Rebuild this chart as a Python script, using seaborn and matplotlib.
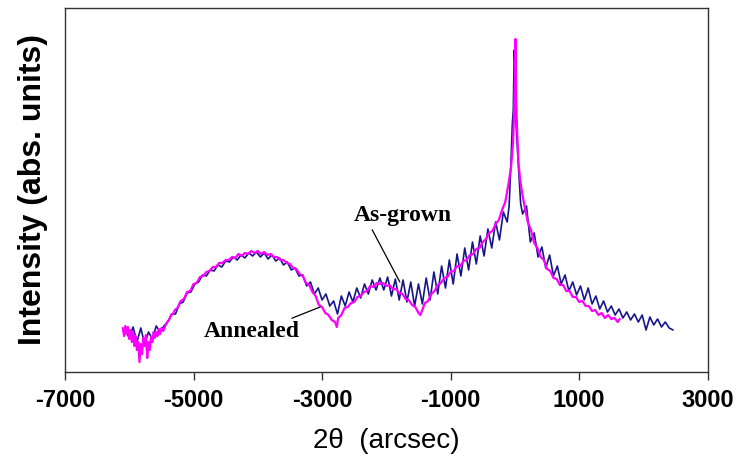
import matplotlib
matplotlib.use("Agg")
import matplotlib.pyplot as plt
import seaborn as sns
import pandas as pd

# ---------------- data ----------------
annealed_x = [-6100, -6080, -6060, -6040, -6020, -6000, -5980, -5960, -5940, -5920,
              -5900, -5880, -5860, -5840, -5820, -5800, -5780, -5760, -5740, -5720,
              -5700, -5680, -5660, -5640, -5620, -5600, -5580, -5560, -5540, -5520,
              -5500, -5470, -5440, -5410, -5380, -5350, -5320, -5290,
              -5250, -5200, -5150, -5100, -5050, -5000, -4950, -4900, -4850, -4800,
              -4750, -4700, -4650, -4600, -4550, -4500, -4450, -4400, -4350, -4300,
              -4250, -4200, -4150, -4100, -4050, -4000, -3950, -3900, -3850, -3800,
              -3750, -3700, -3650, -3600, -3550, -3500, -3450, -3400, -3350, -3300,
              -3250, -3200, -3150, -3100, -3050, -3000, -2950, -2900, -2850, -2800,
              -2770, -2750, -2700, -2650, -2600, -2550, -2500, -2450, -2400, -2350,
              -2300, -2250, -2200, -2150, -2100, -2050, -2000, -1950, -1900, -1850,
              -1800, -1750, -1700, -1650, -1600, -1550, -1500, -1470, -1440, -1400,
              -1350, -1300, -1250, -1200, -1150, -1100, -1050, -1000, -950, -900,
              -850, -800, -750, -700, -650, -600, -550, -500, -450, -400,
              -350, -300, -250, -200, -150, -100, -60, -30, -15, 0,
              10, 20, 35, 55, 80, 110, 150, 200, 250, 300,
              350, 400, 450, 500, 550, 600, 650, 700, 750, 800,
              850, 900, 950, 1000, 1050, 1100, 1150, 1200, 1250, 1300,
              1350, 1400, 1450, 1500, 1550, 1600, 1630]
annealed_y = [44, 36, 46, 38, 45, 33, 42, 30, 40, 26,
              36, 22, 30, 10, 28, 18, 34, 26, 37, 14,
              30, 22, 35, 30, 40, 34, 40, 36, 43, 38,
              44, 41, 46, 50, 52, 57, 58, 62,
              64, 71, 73, 80, 81, 88, 89, 95, 96, 100,
              101, 105, 105, 109, 109, 112, 112, 115, 114, 118,
              116, 119, 118, 121, 119, 121, 118, 120, 117, 118,
              115, 115, 112, 112, 109, 108, 104, 103, 98, 96,
              89, 87, 80, 76, 67, 65, 59, 57, 52, 50,
              45, 54, 57, 64, 65, 69, 70, 75, 76, 80,
              81, 86, 85, 89, 88, 89, 86, 87, 83, 83,
              79, 78, 73, 72, 67, 65, 59, 57, 62, 69,
              71, 78, 81, 87, 89, 94, 95, 100, 101, 106,
              106, 111, 112, 117, 118, 123, 124, 130, 133, 139,
              141, 148, 152, 162, 170, 188, 205, 228, 255, 290,
              333, 270, 240, 210, 193, 180, 166, 150, 142, 129,
              124, 115, 112, 103, 101, 94, 93, 87, 87, 81,
              81, 75, 75, 70, 71, 66, 66, 61, 62, 57,
              59, 54, 57, 53, 54, 50, 53]

asgrown_x = [-6060, -6000, -5940, -5880, -5820, -5760, -5700, -5640, -5580, -5520,
             -5460, -5400, -5340, -5280, -5220, -5160, -5100, -5040, -4980, -4920,
             -4860, -4800, -4740, -4680, -4620, -4560, -4500, -4440, -4380, -4320,
             -4260, -4200, -4140, -4080, -4020, -3960, -3900, -3840, -3780, -3720,
             -3660, -3600, -3540, -3480, -3420, -3360, -3300, -3240, -3180, -3120,
             -3060, -3000, -2940, -2880, -2820, -2760, -2700, -2640, -2580, -2520,
             -2460, -2400, -2340, -2280, -2220, -2160, -2100, -2040, -1980, -1920,
             -1860, -1800, -1740, -1680, -1620, -1560, -1500, -1440, -1380, -1320,
             -1260, -1200, -1140, -1080, -1020, -960, -900, -840, -780, -720,
             -660, -600, -540, -480, -420, -360, -300, -240, -180, -120,
             -90, -60, -40, -25, -10, 5, 20, 40, 60, 90,
             120, 180, 240, 300, 360, 420, 480, 540, 600, 660,
             720, 780, 840, 900, 960, 1020, 1080, 1140, 1200, 1260,
             1320, 1380, 1440, 1500, 1560, 1620, 1680, 1740, 1800, 1860,
             1920, 1980, 2040, 2100, 2160, 2220, 2280, 2340, 2400, 2460]
asgrown_y = [42, 34, 45, 30, 44, 28, 40, 33, 46, 40,
             46, 50, 58, 58, 68, 70, 79, 80, 88, 90,
             97, 96, 102, 101, 107, 105, 111, 110, 115, 112,
             117, 114, 119, 116, 120, 115, 119, 113, 117, 111,
             114, 107, 110, 102, 104, 96, 97, 86, 90, 78,
             84, 72, 78, 66, 71, 58, 76, 66, 80, 70,
             84, 74, 88, 78, 92, 82, 94, 82, 95, 76,
             93, 72, 92, 70, 90, 66, 88, 68, 94, 72,
             100, 78, 106, 84, 112, 88, 118, 96, 124, 102,
             130, 108, 136, 116, 143, 124, 150, 132, 160, 150,
             166, 212, 248, 262, 322, 300, 245, 222, 200, 168,
             158, 166, 130, 139, 115, 125, 104, 117, 96, 106,
             88, 97, 81, 90, 77, 86, 72, 84, 68, 76,
             63, 71, 60, 66, 57, 63, 54, 60, 52, 58,
             50, 57, 42, 55, 47, 53, 45, 50, 44, 42]

x_ticks = [-7000, -5000, -3000, -1000, 1000, 3000]
x_tick_labels = ["-7000", "-5000", "-3000", "-1000", "1000", "3000"]

assert len(annealed_x) == len(annealed_y)
assert len(asgrown_x) == len(asgrown_y)

df = pd.concat([
    pd.DataFrame({"two_theta": asgrown_x, "intensity": asgrown_y, "sample": "As-grown"}),
    pd.DataFrame({"two_theta": annealed_x, "intensity": annealed_y, "sample": "Annealed"}),
], ignore_index=True)

# ---------------- style ----------------
sns.set_style("white")
plt.rcParams["font.family"] = ["Liberation Sans", "DejaVu Sans"]
plt.rcParams["text.color"] = "black"
plt.rcParams["axes.labelcolor"] = "black"
plt.rcParams["xtick.color"] = "black"

fig = plt.figure(figsize=(7.38, 4.66), dpi=100)
ax = fig.add_axes([0.088, 0.2017, 0.871, 0.7813])

sns.lineplot(data=df[df["sample"] == "As-grown"], x="two_theta", y="intensity",
             sort=False, estimator=None, color="#16168a", lw=1.2, ax=ax, legend=False)
sns.lineplot(data=df[df["sample"] == "Annealed"], x="two_theta", y="intensity",
             sort=False, estimator=None, color="#ff00ff", lw=1.6, ax=ax, legend=False)

ax.set_xlim(-7000, 3000)
ax.set_ylim(0, 364)
ax.set_xticks(x_ticks)
ax.set_xticklabels(x_tick_labels, fontsize=17, fontweight="bold", color="black")
ax.set_yticks([])
ax.tick_params(axis="x", direction="out", length=6, width=1, color="#333333",
               pad=6, bottom=True, labelcolor="black")

for s in ax.spines.values():
    s.set_visible(True)
    s.set_color("#333333")
    s.set_linewidth(1.0)

ax.set_xlabel("2θ  (arcsec)", fontsize=20, labelpad=12, color="black")
ax.set_ylabel("Intensity (abs. units)", fontsize=23, fontweight="bold", labelpad=12,
              color="black")

serif = ["Liberation Serif", "DejaVu Serif"]
ax.annotate("Annealed", xy=(-3030, 65), xytext=(-4090, 40),
            ha="center", va="center", fontsize=17, fontweight="bold", family=serif,
            color="black",
            arrowprops=dict(arrowstyle="-", color="black", lw=0.9,
                            relpos=(0.83, 1.0), shrinkA=0, shrinkB=0))
ax.annotate("As-grown", xy=(-1790, 90), xytext=(-1744, 156),
            ha="center", va="center", fontsize=17, fontweight="bold", family=serif,
            color="black",
            arrowprops=dict(arrowstyle="-", color="black", lw=0.9,
                            relpos=(0.17, 0.0), shrinkA=0, shrinkB=0))

fig.savefig("out.png", dpi=100)
